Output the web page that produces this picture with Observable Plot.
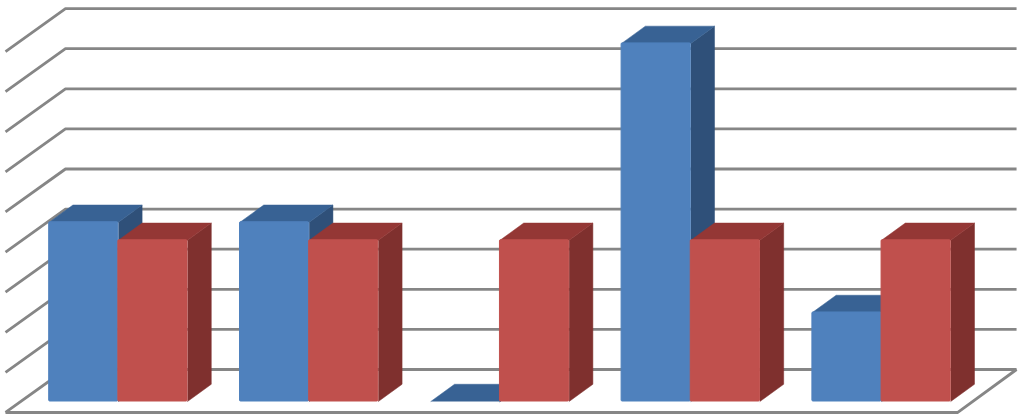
<!DOCTYPE html>
<html>
<head>
<meta charset="utf-8">
<script src="https://cdn.jsdelivr.net/npm/d3@7"></script>
<script src="https://cdn.jsdelivr.net/npm/@observablehq/plot@0.6"></script>
<style>html,body{margin:0;padding:0;background:#fff;overflow:hidden}svg{display:block}</style>
</head>
<body>
<div id="chart"></div>
<script>
const categories = [0, 1, 2, 3, 4];
const blueValues = [4.47, 4.47, 0, 8.93, 2.22];
const redValues = [4.02, 4.02, 4.02, 4.02, 4.02];
const gridValues = [0, 1, 2, 3, 4, 5, 6, 7, 8, 9];

// Oblique projection, in data units
const barWidth = 0.3625, depthX = 0.1245, depthY = 0.43;
const wallBack = 0.798, wallFront = -0.274;
const floorLeft = -0.229, floorBackLeft = 0.0854, floorRight = 4.762, floorBackRight = 5.07;

function box(values, offset) {
  const bars = categories.map(i => ({i, v: values[i], x: i + offset}));
  const poly = (make) => bars.flatMap(b => make(b).map(([px, py]) => ({id: b.i, px, py})));
  return {
    front: bars.filter(b => b.v > 0),
    top: poly(b => [[b.x, b.v], [b.x + depthX, b.v + depthY], [b.x + barWidth + depthX, b.v + depthY], [b.x + barWidth, b.v]]),
    side: poly(b => [[b.x + barWidth, 0], [b.x + barWidth + depthX, depthY], [b.x + barWidth + depthX, b.v + depthY], [b.x + barWidth, b.v]])
  };
}
const faces = (values, offset, cFront, cTop, cSide) => {
  const b = box(values, offset);
  return [
    Plot.line(b.side, {x: "px", y: "py", z: "id", fill: cSide, stroke: cSide, strokeWidth: 0.5}),
    Plot.line(b.top, {x: "px", y: "py", z: "id", fill: cTop, stroke: cTop, strokeWidth: 0.5}),
    Plot.rect(b.front, {x1: "x", x2: d => d.x + barWidth, y1: 0, y2: "v", fill: cFront, stroke: cFront, strokeWidth: 1, rx: 1})
  ];
};

const gridPts = gridValues.flatMap(v => [
  {id: v, px: floorLeft, py: v + wallFront},
  {id: v, px: floorBackLeft, py: v + wallBack},
  {id: v, px: floorBackRight, py: v + wallBack}
]);
const floorPts = [
  {px: floorBackRight, py: wallBack},
  {px: floorRight, py: wallFront},
  {px: floorLeft, py: wallFront}
];

const plot = Plot.plot({
  width: 1024, height: 419,
  marginTop: 0, marginRight: 0, marginBottom: 0, marginLeft: 0,
  style: {background: "#fff"},
  x: {type: "linear", domain: [-48.7 / 190.8, (1024 - 48.7) / 190.8], range: [0, 1024], axis: null},
  y: {type: "linear", domain: [-18 / 40.1, 401 / 40.1], range: [419, 0], axis: null},
  marks: [
    Plot.line(gridPts, {x: "px", y: "py", z: "id", stroke: "#868686", strokeWidth: 2.8, strokeLinejoin: "miter", strokeLinecap: "butt"}),
    Plot.line(floorPts, {x: "px", y: "py", stroke: "#868686", strokeWidth: 2.8, strokeLinejoin: "miter", strokeLinecap: "butt"}),
    ...faces(blueValues, 0, "#4f81bd", "#386294", "#2f5079"),
    ...faces(redValues, barWidth, "#c0504d", "#943735", "#7f302e")
  ]
});
document.getElementById("chart").appendChild(plot);
</script>
</body>
</html>
